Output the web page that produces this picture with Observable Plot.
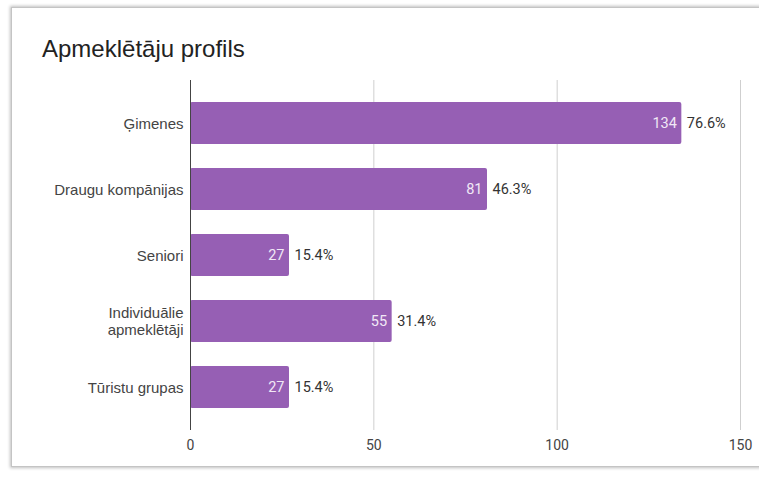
<!DOCTYPE html>
<html>
<head>
<meta charset="utf-8">
<script src="https://cdn.jsdelivr.net/npm/d3@7"></script>
<script src="https://cdn.jsdelivr.net/npm/@observablehq/plot@0.6"></script>
<style>
  html, body { margin: 0; padding: 0; background: #fff; }
  #wrap { position: relative; width: 759px; height: 479px; overflow: hidden; background: #fff; }
  #frame { position: absolute; left: 11px; top: 7px; width: 770px; height: 458px;
           border: 1px solid #c4c4c4; box-shadow: 0 0 3px 1px rgba(0,0,0,0.25); background: #fff; }
  #title { position: absolute; left: 42px; top: 37px; font: 24px/24px "Liberation Sans", Arial, sans-serif;
           color: #222; white-space: nowrap; }
  #chart { position: absolute; left: 0; top: 70px; }
</style>
</head>
<body>
<div id="wrap">
  <div id="frame"></div>
  <div id="title">Apmeklētāju profils</div>
  <div id="chart"></div>
</div>
<script>
const categories = ["Ģimenes", "Draugu kompānijas", "Seniori", "Individuālie\napmeklētāji", "Tūristu grupas"];
const counts = [134, 81, 27, 55, 27];
const percents = ["76.6%", "46.3%", "15.4%", "31.4%", "15.4%"];
const xTicks = [0, 50, 100, 150];

const data = categories.map((c, i) => ({category: c, count: counts[i], pct: percents[i]}));

const chart = Plot.plot({
  width: 759,
  height: 395,
  marginLeft: 190,
  marginRight: 19,
  marginTop: 10,
  marginBottom: 35,
  style: {fontFamily: "'Liberation Sans', Arial, sans-serif", color: "#444", background: "transparent", overflow: "visible"},
  x: {domain: [0, 150], ticks: xTicks, label: null},
  y: {domain: categories, paddingInner: 0.36, paddingOuter: 0.33, label: null},
  marks: [
    Plot.gridX(xTicks.filter(d => d > 0), {stroke: "#cfcfcf", strokeOpacity: 1}),
    Plot.axisX({ticks: xTicks, tickSize: 0, tickPadding: 10, fontSize: 14, fontFamily: "Roboto, sans-serif", fill: "#444"}),
    Plot.axisY({tickSize: 0, tickPadding: 7, fontSize: 15, fill: "#444", lineHeight: 1.12}),
    Plot.barX(data, {x: "count", y: "category", fill: "#965fb4", rx: 2}),
    Plot.ruleX([0], {stroke: "#444"}),
    Plot.text(data, {x: "count", y: "category", text: d => String(d.count), textAnchor: "end", dx: -5,
      fill: "#f1e8f6", fontSize: 14.5, fontFamily: "Roboto, sans-serif"}),
    Plot.text(data, {x: "count", y: "category", text: "pct", textAnchor: "start", dx: 5,
      fill: "#333", fontSize: 14.5, fontFamily: "Roboto, sans-serif"})
  ]
});
document.getElementById("chart").appendChild(chart);
</script>
</body>
</html>
